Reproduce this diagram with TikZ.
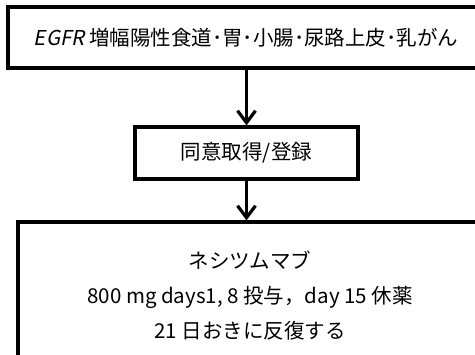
\documentclass[tikz,border=0pt]{standalone}
\usepackage{fontspec}
\setmainfont{Noto Sans CJK JP}
\newfontfamily\egfrfont[FakeSlant=0.2]{Noto Sans CJK JP}
\usetikzlibrary{arrows.meta}

\begin{document}
\begin{tikzpicture}
        [%%%%%%%%%%%%%%%%%%%%%%%%%%%%%%
        x=1pt,y=-1pt,
        box/.style={rectangle,draw=black,line width=3.2pt,inner sep=0pt,
                    font=\fontsize{20.5}{35}\selectfont,align=center},
        flow/.style={line width=3.2pt,-{Straight Barb[length=12pt,width=18pt,line width=3.2pt]}},
        ]%%%%%%%%%%%%%%%%%%%%%%%%%%%%%%
        \useasboundingbox (0,0) rectangle (475,355);

        \node[box,minimum width=476pt,minimum height=61pt] (target) at (246,37.5)
          {{\egfrfont EGFR} 増幅陽性食道･胃･小腸･尿路上皮･乳がん};
        \node[box,minimum width=223pt,minimum height=52pt] (consent) at (246.5,153)
          {同意取得/登録};
        \node[box,minimum width=464pt,minimum height=148pt] (treat) at (250,296)
          {ネシツムマブ\\800 mg days1, 8 投与，day 15 休薬\\21 日おきに反復する};

        \draw[flow] (target.south -| consent.north) -- (consent.north);
        \draw[flow] (consent.south) -- (consent.south |- treat.north);
      \end{tikzpicture}
\end{document}
